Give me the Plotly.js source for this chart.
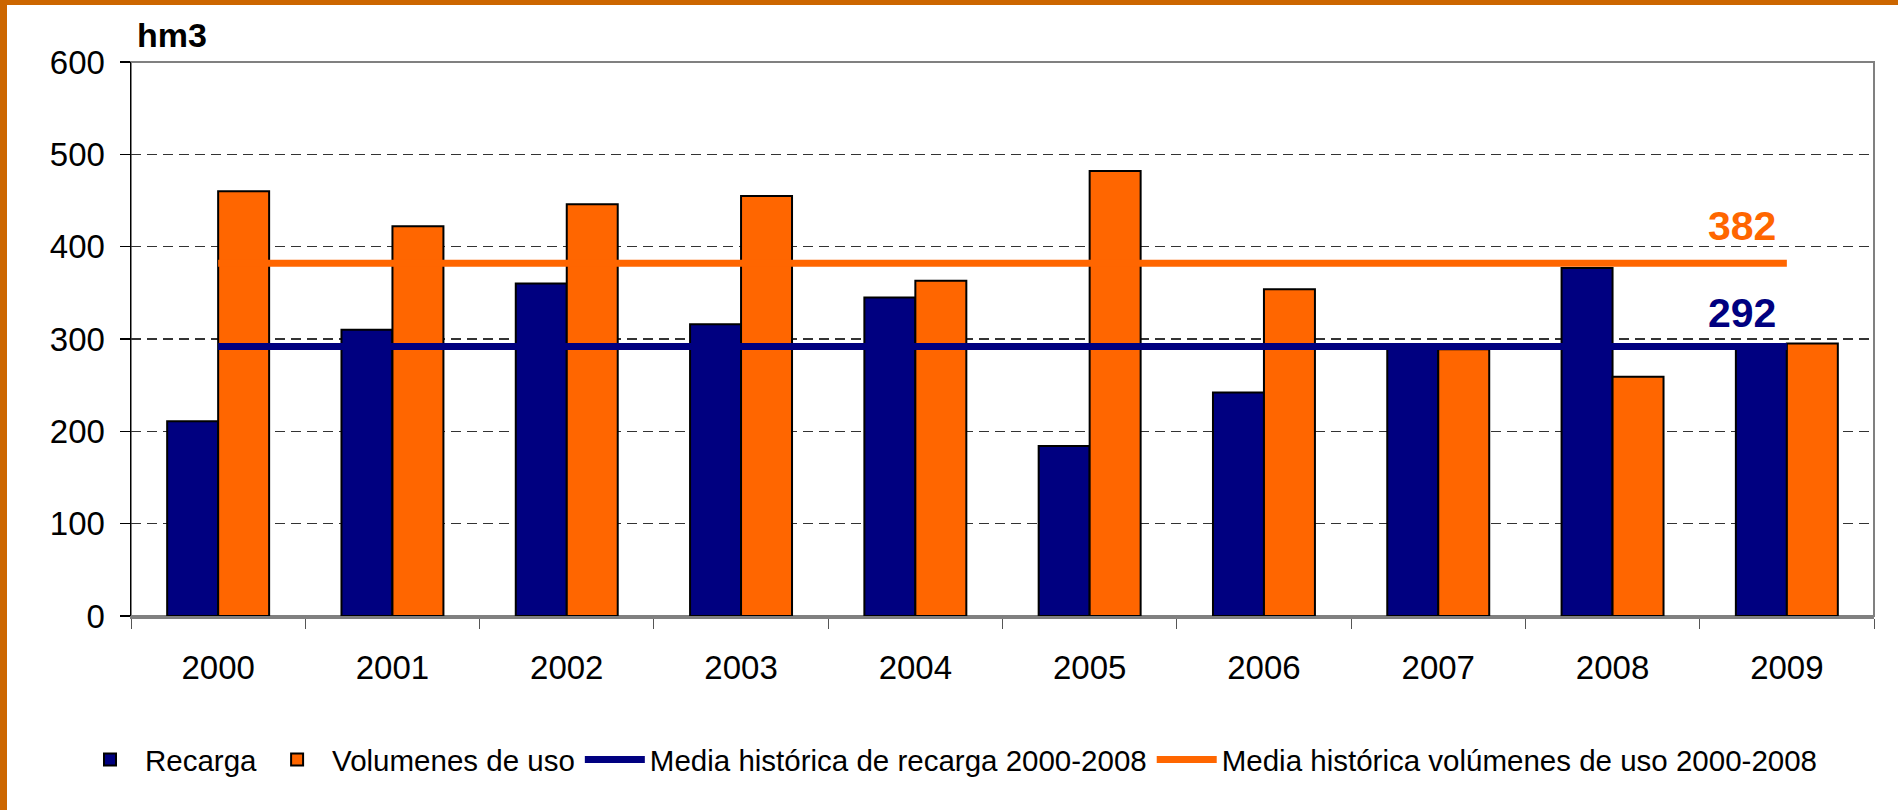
<!DOCTYPE html>
<html>
<head>
<meta charset="utf-8">
<script src="https://cdn.plot.ly/plotly-3.0.1.min.js"></script>
<style>
  html, body { margin: 0; padding: 0; background: #fff; overflow: hidden; }
  #chart { width: 1898px; height: 810px; }
  .frame-left { position: absolute; left: 0; top: 0; width: 7px; height: 810px; background: #CC6600; }
  .frame-top { position: absolute; left: 0; top: 0; width: 1898px; height: 5px; background: #CC6600; }
</style>
</head>
<body>
<div id="chart"></div>
<div class="frame-left"></div>
<div class="frame-top"></div>
<script>
const years = ['2000','2001','2002','2003','2004','2005','2006','2007','2008','2009'];
const recarga = [211, 310, 360, 316, 345, 184, 242, 292, 377, 290];
const volumenes = [460, 422, 446, 455, 363, 482, 354, 289, 259, 295];
const mediaYears = ['2000', '2009'];
const mediaRecarga = [292, 292];
const mediaVolumenes = [382, 382];
const yTicks = [0, 100, 200, 300, 400, 500, 600];

const FONT = 'Liberation Sans, Arial, sans-serif';
const NAVY = '#000080';
const ORANGE = '#FF6600';

const traces = [
  {
    type: 'bar', name: 'Recarga', x: years, y: recarga,
    marker: { color: NAVY, line: { color: '#000', width: 2 } }
  },
  {
    type: 'bar', name: 'Volumenes de uso', x: years, y: volumenes,
    marker: { color: ORANGE, line: { color: '#000', width: 2 } }
  },
  {
    type: 'scatter', mode: 'lines', name: 'Media histórica de recarga 2000-2008',
    x: mediaYears, y: mediaRecarga,
    line: { color: NAVY, width: 7 }
  },
  {
    type: 'scatter', mode: 'lines', name: 'Media histórica volúmenes de uso 2000-2008',
    x: mediaYears, y: mediaVolumenes,
    line: { color: ORANGE, width: 7 }
  }
];

const lastIdx = years.length - 1;

const layout = {
  width: 1898, height: 810,
  margin: { l: 131, r: 24, t: 62, b: 194 },
  paper_bgcolor: '#fff', plot_bgcolor: '#fff',
  font: { family: FONT, color: '#000', size: 29 },
  barmode: 'group', bargap: 0.415, bargroupgap: 0,
  showlegend: true,
  legend: {
    orientation: 'h', xref: 'container', yref: 'container',
    x: 0.5, xanchor: 'center', y: 0.062, yanchor: 'middle',
    font: { family: FONT, size: 29.5, color: '#000' },
    traceorder: 'normal', itemwidth: 60, tracegroupgap: 0
  },
  xaxis: {
    type: 'category', categoryorder: 'array', categoryarray: years,
    range: [-0.5, lastIdx + 0.5], autorange: false,
    tickson: 'boundaries', ticks: 'outside', ticklen: 10, tickwidth: 1, tickcolor: '#555',
    tickangle: 0,
    showgrid: false, showline: true, linecolor: '#808080', linewidth: 3,
    tickfont: { family: FONT, size: 33, color: '#000' },
    ticklabelstandoff: 20,
    fixedrange: true
  },
  yaxis: {
    range: [0, 600], autorange: false, tickvals: yTicks, ticktext: yTicks.map(String),
    ticks: 'outside', ticklen: 10, tickwidth: 1.5, tickcolor: '#000',
    showline: true, linecolor: '#000', linewidth: 1.5,
    showgrid: true, gridcolor: '#333', gridwidth: 1.3, griddash: '10px,6px',
    zeroline: false,
    tickfont: { family: FONT, size: 33, color: '#000' },
    ticklabelstandoff: 8,
    fixedrange: true
  },
  shapes: [
    { type: 'rect', xref: 'paper', yref: 'paper', x0: 0, x1: 1, y0: 0, y1: 1,
      line: { color: '#808080', width: 2 }, layer: 'below' }
  ],
  annotations: [
    { xref: 'paper', yref: 'paper', x: 0, y: 1, xanchor: 'left', yanchor: 'bottom',
      xshift: 4, yshift: 6, showarrow: false, text: '<b>hm3</b>',
      font: { family: FONT, size: 34, color: '#000' } },
    { xref: 'x', yref: 'y', x: lastIdx, y: mediaVolumenes[1], xanchor: 'center', yanchor: 'bottom',
      xshift: -45, yshift: 12, showarrow: false, text: '<b>' + mediaVolumenes[1] + '</b>',
      font: { family: FONT, size: 41, color: ORANGE } },
    { xref: 'x', yref: 'y', x: lastIdx, y: mediaRecarga[1], xanchor: 'center', yanchor: 'bottom',
      xshift: -45, yshift: 8, showarrow: false, text: '<b>' + mediaRecarga[1] + '</b>',
      font: { family: FONT, size: 41, color: NAVY } }
  ]
};

Plotly.newPlot('chart', traces, layout, { displayModeBar: false, staticPlot: true });
</script>
</body>
</html>
